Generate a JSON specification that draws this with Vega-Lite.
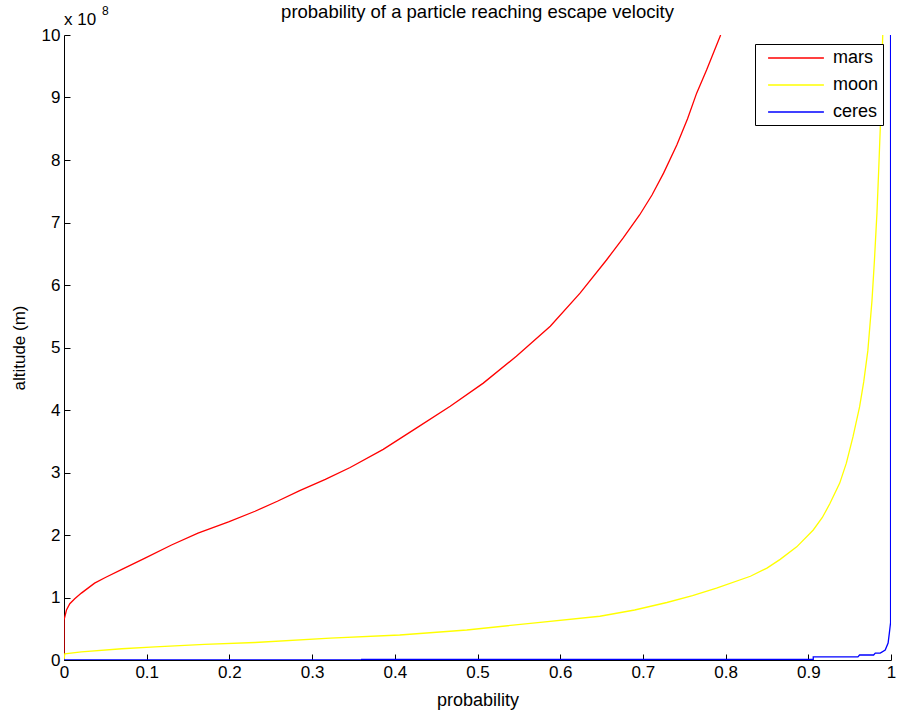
{
  "$schema": "https://vega.github.io/schema/vega-lite/v6.json",
  "autosize": {"type": "none"},
  "padding": {"left": 64, "top": 35, "right": 7, "bottom": 59},
  "width": 827,
  "height": 625,
  "background": "white",
  "config": {
    "font": "Liberation Sans",
    "view": {"stroke": null},
    "axis": {"grid": false, "domainColor": "black", "tickColor": "black", "labelColor": "black", "titleColor": "black", "labelFont": "Liberation Sans", "titleFont": "Liberation Sans", "titleFontWeight": "normal", "labelFontSize": 17, "titleFontSize": 17, "tickSize": -6, "domainWidth": 1, "tickWidth": 1}
  },
  "title": {"text": "probability of a particle reaching escape velocity", "fontSize": 18.5, "fontWeight": "normal", "font": "Liberation Sans", "color": "black", "anchor": "middle", "frame": "group", "baseline": "alphabetic", "offset": 0, "dy": 31},
  "datasets": {
    "curves": [
      {"s": "mars", "i": 0, "p": 0, "h": 0},
      {"s": "mars", "i": 1, "p": 0, "h": 0.64},
      {"s": "mars", "i": 2, "p": 0.003, "h": 0.8},
      {"s": "mars", "i": 3, "p": 0.007, "h": 0.9},
      {"s": "mars", "i": 4, "p": 0.013, "h": 0.98},
      {"s": "mars", "i": 5, "p": 0.021, "h": 1.07},
      {"s": "mars", "i": 6, "p": 0.037, "h": 1.23},
      {"s": "mars", "i": 7, "p": 0.05, "h": 1.32},
      {"s": "mars", "i": 8, "p": 0.07, "h": 1.45},
      {"s": "mars", "i": 9, "p": 0.098, "h": 1.63},
      {"s": "mars", "i": 10, "p": 0.13, "h": 1.84},
      {"s": "mars", "i": 11, "p": 0.162, "h": 2.03},
      {"s": "mars", "i": 12, "p": 0.199, "h": 2.21},
      {"s": "mars", "i": 13, "p": 0.231, "h": 2.38},
      {"s": "mars", "i": 14, "p": 0.258, "h": 2.54},
      {"s": "mars", "i": 15, "p": 0.285, "h": 2.71},
      {"s": "mars", "i": 16, "p": 0.316, "h": 2.89},
      {"s": "mars", "i": 17, "p": 0.346, "h": 3.08},
      {"s": "mars", "i": 18, "p": 0.386, "h": 3.37},
      {"s": "mars", "i": 19, "p": 0.426, "h": 3.71},
      {"s": "mars", "i": 20, "p": 0.467, "h": 4.06},
      {"s": "mars", "i": 21, "p": 0.507, "h": 4.43},
      {"s": "mars", "i": 22, "p": 0.547, "h": 4.86},
      {"s": "mars", "i": 23, "p": 0.588, "h": 5.34},
      {"s": "mars", "i": 24, "p": 0.624, "h": 5.87},
      {"s": "mars", "i": 25, "p": 0.656, "h": 6.4},
      {"s": "mars", "i": 26, "p": 0.676, "h": 6.75},
      {"s": "mars", "i": 27, "p": 0.696, "h": 7.12},
      {"s": "mars", "i": 28, "p": 0.711, "h": 7.44},
      {"s": "mars", "i": 29, "p": 0.725, "h": 7.79},
      {"s": "mars", "i": 30, "p": 0.741, "h": 8.24},
      {"s": "mars", "i": 31, "p": 0.754, "h": 8.66},
      {"s": "mars", "i": 32, "p": 0.765, "h": 9.07},
      {"s": "mars", "i": 33, "p": 0.777, "h": 9.44},
      {"s": "mars", "i": 34, "p": 0.794, "h": 10.0},
      {"s": "moon", "i": 0, "p": 0, "h": 0},
      {"s": "moon", "i": 1, "p": 0.001, "h": 0.1},
      {"s": "moon", "i": 2, "p": 0.021, "h": 0.13},
      {"s": "moon", "i": 3, "p": 0.07, "h": 0.18},
      {"s": "moon", "i": 4, "p": 0.11, "h": 0.21},
      {"s": "moon", "i": 5, "p": 0.17, "h": 0.25},
      {"s": "moon", "i": 6, "p": 0.231, "h": 0.28},
      {"s": "moon", "i": 7, "p": 0.322, "h": 0.35},
      {"s": "moon", "i": 8, "p": 0.406, "h": 0.4},
      {"s": "moon", "i": 9, "p": 0.487, "h": 0.48},
      {"s": "moon", "i": 10, "p": 0.567, "h": 0.59},
      {"s": "moon", "i": 11, "p": 0.648, "h": 0.7},
      {"s": "moon", "i": 12, "p": 0.69, "h": 0.8},
      {"s": "moon", "i": 13, "p": 0.729, "h": 0.92},
      {"s": "moon", "i": 14, "p": 0.76, "h": 1.03},
      {"s": "moon", "i": 15, "p": 0.789, "h": 1.15},
      {"s": "moon", "i": 16, "p": 0.83, "h": 1.34},
      {"s": "moon", "i": 17, "p": 0.85, "h": 1.47},
      {"s": "moon", "i": 18, "p": 0.866, "h": 1.61},
      {"s": "moon", "i": 19, "p": 0.886, "h": 1.81},
      {"s": "moon", "i": 20, "p": 0.906, "h": 2.08},
      {"s": "moon", "i": 21, "p": 0.917, "h": 2.28},
      {"s": "moon", "i": 22, "p": 0.926, "h": 2.5},
      {"s": "moon", "i": 23, "p": 0.938, "h": 2.83},
      {"s": "moon", "i": 24, "p": 0.946, "h": 3.15},
      {"s": "moon", "i": 25, "p": 0.954, "h": 3.57},
      {"s": "moon", "i": 26, "p": 0.962, "h": 4.05},
      {"s": "moon", "i": 27, "p": 0.967, "h": 4.45},
      {"s": "moon", "i": 28, "p": 0.972, "h": 4.95},
      {"s": "moon", "i": 29, "p": 0.977, "h": 5.75},
      {"s": "moon", "i": 30, "p": 0.98, "h": 6.4},
      {"s": "moon", "i": 31, "p": 0.983, "h": 7.15},
      {"s": "moon", "i": 32, "p": 0.985, "h": 7.8},
      {"s": "moon", "i": 33, "p": 0.987, "h": 8.5},
      {"s": "moon", "i": 34, "p": 0.989, "h": 9.5},
      {"s": "moon", "i": 35, "p": 0.99, "h": 10.0},
      {"s": "ceres", "i": 0, "p": 0, "h": 0},
      {"s": "ceres", "i": 1, "p": 0.36, "h": 0},
      {"s": "ceres", "i": 2, "p": 0.36, "h": 0.01},
      {"s": "ceres", "i": 3, "p": 0.906, "h": 0.01},
      {"s": "ceres", "i": 4, "p": 0.906, "h": 0.05},
      {"s": "ceres", "i": 5, "p": 0.96, "h": 0.05},
      {"s": "ceres", "i": 6, "p": 0.962, "h": 0.08},
      {"s": "ceres", "i": 7, "p": 0.979, "h": 0.08},
      {"s": "ceres", "i": 8, "p": 0.981, "h": 0.11},
      {"s": "ceres", "i": 9, "p": 0.987, "h": 0.11},
      {"s": "ceres", "i": 10, "p": 0.993, "h": 0.16},
      {"s": "ceres", "i": 11, "p": 0.9965, "h": 0.27},
      {"s": "ceres", "i": 12, "p": 0.998, "h": 0.43},
      {"s": "ceres", "i": 13, "p": 0.9995, "h": 0.6},
      {"s": "ceres", "i": 14, "p": 0.9995, "h": 10.0}
    ],
    "exponent": [
      {"t": "x 10", "p": 0, "h": 10}
    ],
    "sup": [
      {"t": "8", "p": 0, "h": 10}
    ]
  },
  "layer": [
    {
      "data": {"name": "curves"},
      "mark": {"type": "line", "strokeWidth": 1.3, "clip": true},
      "encoding": {
        "x": {"field": "p", "type": "quantitative", "scale": {"domain": [0, 1], "nice": false}, "axis": {"title": "probability", "titleFontSize": 18, "values": [0, 0.1, 0.2, 0.3, 0.4, 0.5, 0.6, 0.7, 0.8, 0.9, 1], "format": ".1~f", "labelPadding": 10, "titlePadding": 11, "labelFlush": false}},
        "y": {"field": "h", "type": "quantitative", "scale": {"domain": [0, 10], "nice": false}, "axis": {"title": "altitude (m)", "values": [0, 1, 2, 3, 4, 5, 6, 7, 8, 9, 10], "format": "d", "labelPadding": 10, "titlePadding": 13, "labelFlush": false}},
        "color": {"field": "s", "type": "nominal", "scale": {"domain": ["mars", "moon", "ceres"], "range": ["#ff0000", "#ffff00", "#0000ff"]}, "legend": {"title": null, "orient": "none", "legendX": 691, "legendY": 9, "direction": "vertical", "symbolType": "M-3.1,0H3.1", "symbolSize": 324, "symbolStrokeWidth": 1.5, "labelFontSize": 18, "labelFont": "Liberation Sans", "labelColor": "black", "strokeColor": "black", "fillColor": "white", "padding": 4, "rowPadding": 8, "labelOffset": 27, "symbolOffset": 27}},
        "order": {"field": "i", "type": "quantitative"}
      }
    },
    {
      "data": {"name": "exponent"},
      "mark": {"type": "text", "align": "left", "baseline": "alphabetic", "fontSize": 17, "font": "Liberation Sans", "color": "black", "dy": -10},
      "encoding": {
        "x": {"field": "p", "type": "quantitative"},
        "y": {"field": "h", "type": "quantitative"},
        "text": {"field": "t"}
      }
    },
    {
      "data": {"name": "sup"},
      "mark": {"type": "text", "align": "left", "baseline": "alphabetic", "fontSize": 12, "font": "Liberation Sans", "color": "black", "dx": 38, "dy": -20},
      "encoding": {
        "x": {"field": "p", "type": "quantitative"},
        "y": {"field": "h", "type": "quantitative"},
        "text": {"field": "t"}
      }
    }
  ]
}
